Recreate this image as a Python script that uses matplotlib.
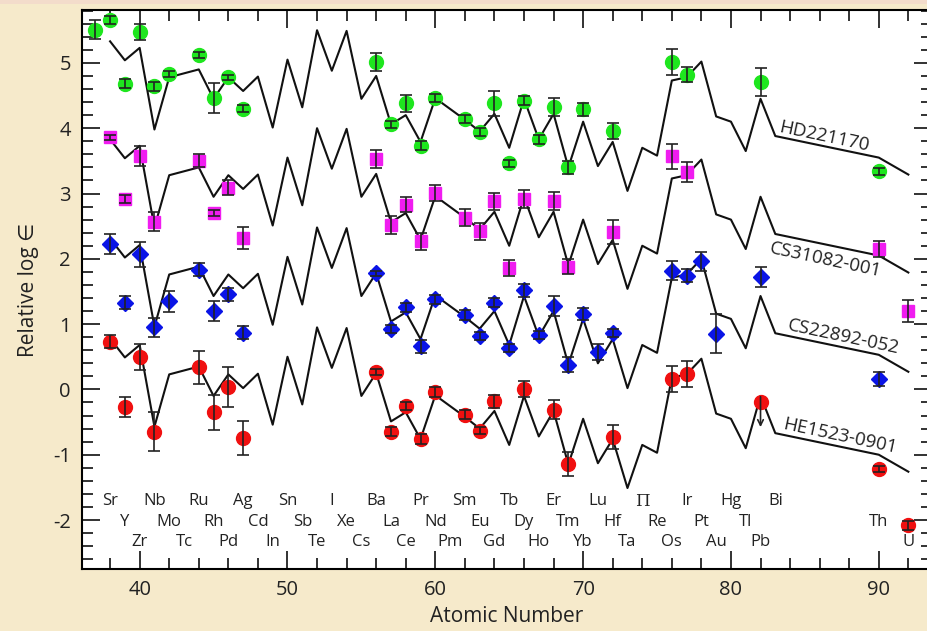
import matplotlib.pyplot as plt
import numpy as np
from matplotlib.patches import Rectangle
from matplotlib.ticker import MultipleLocator

plt.rcParams['font.family'] = ['Open Sans', 'DejaVu Sans']
plt.rcParams['axes.unicode_minus'] = False

# scaled solar r-process pattern (drawn for HD221170, shifted for the others)
solar_z = [38, 39, 40, 41, 42, 44, 45, 46, 47, 48, 49, 50, 51, 52, 53, 54, 55, 56,
           57, 58, 59, 60, 62, 63, 64, 65, 66, 67, 68, 69, 70, 71, 72, 73, 74, 75,
           76, 77, 78, 79, 80, 81, 82, 83, 90, 92]
solar_y = [5.33, 5.04, 5.23, 3.98, 4.78, 4.90, 4.45, 4.78, 4.57, 4.79, 4.01, 5.05,
           4.32, 5.50, 4.88, 5.49, 4.45, 4.80, 4.06, 4.20, 3.79, 4.46, 4.13, 3.95,
           4.22, 3.70, 4.45, 3.83, 4.22, 3.40, 4.10, 3.42, 3.79, 3.04, 3.70, 3.58,
           4.73, 4.78, 5.02, 4.18, 4.10, 3.65, 4.45, 3.88, 3.55, 3.29]
star_names = ['HD221170', 'CS31082-001', 'CS22892-052', 'HE1523-0901']
curve_offsets = [0.0, -1.50, -3.02, -4.55]

# HD221170
hd_z = [37, 38, 39, 40, 41, 42, 44, 45, 46, 47, 56, 57, 58, 59, 60, 62, 63, 64, 65,
        66, 67, 68, 69, 70, 72, 76, 77, 82, 90]
hd_y = [5.51, 5.66, 4.68, 5.47, 4.64, 4.83, 5.12, 4.46, 4.78, 4.30, 5.01, 4.06, 4.38,
        3.73, 4.46, 4.14, 3.94, 4.38, 3.46, 4.42, 3.83, 4.33, 3.40, 4.29, 3.96, 5.02,
        4.82, 4.71, 3.34]
hd_err = [0.14, 0.06, 0.07, 0.12, 0.07, 0.05, 0.04, 0.23, 0.04, 0.05, 0.14, 0.05, 0.13,
          0.07, 0.06, 0.06, 0.06, 0.19, 0.06, 0.07, 0.07, 0.14, 0.10, 0.10, 0.12, 0.20,
          0.12, 0.21, 0.05]

# CS31082-001
cs31_z = [38, 39, 40, 41, 44, 45, 46, 47, 56, 57, 58, 59, 60, 62, 63, 64, 65, 66, 68,
          69, 72, 76, 77, 90, 92]
cs31_y = [3.86, 2.91, 3.57, 2.57, 3.50, 2.70, 3.09, 2.32, 3.53, 2.52, 2.83, 2.27, 3.01,
          2.63, 2.42, 2.88, 1.86, 2.92, 2.88, 1.88, 2.41, 3.57, 3.33, 2.15, 1.20]
cs31_err = [0.04, 0.06, 0.15, 0.15, 0.10, 0.04, 0.12, 0.17, 0.14, 0.14, 0.12, 0.13, 0.12,
            0.13, 0.13, 0.13, 0.12, 0.14, 0.14, 0.11, 0.18, 0.19, 0.16, 0.12, 0.17]

# CS22892-052
cs22_z = [38, 39, 40, 41, 42, 44, 45, 46, 47, 56, 57, 58, 59, 60, 62, 63, 64, 65, 66,
          67, 68, 69, 70, 71, 72, 76, 77, 78, 79, 82, 90]
cs22_y = [2.23, 1.33, 2.07, 0.95, 1.35, 1.83, 1.20, 1.46, 0.87, 1.78, 0.93, 1.26, 0.66,
          1.38, 1.14, 0.82, 1.33, 0.63, 1.52, 0.83, 1.28, 0.38, 1.15, 0.57, 0.87, 1.82,
          1.74, 1.96, 0.85, 1.72, 0.16]
cs22_err = [0.15, 0.10, 0.19, 0.14, 0.16, 0.10, 0.16, 0.10, 0.10, 0.04, 0.06, 0.07, 0.10,
            0.07, 0.07, 0.06, 0.07, 0.06, 0.10, 0.06, 0.15, 0.11, 0.09, 0.12, 0.06, 0.15,
            0.10, 0.14, 0.30, 0.15, 0.11]

# HE1523-0901
he_z = [38, 39, 40, 41, 44, 45, 46, 47, 56, 57, 58, 59, 60, 62, 63, 64, 66, 68, 69, 72,
        76, 77, 90, 92]
he_y = [0.73, -0.27, 0.50, -0.65, 0.34, -0.35, 0.04, -0.74, 0.27, -0.65, -0.26, -0.76,
        -0.04, -0.39, -0.63, -0.18, 0.01, -0.31, -1.14, -0.73, 0.16, 0.24, -1.22, -2.08]
he_err = [0.10, 0.15, 0.20, 0.30, 0.25, 0.27, 0.31, 0.26, 0.05, 0.07, 0.06, 0.07, 0.07,
          0.07, 0.06, 0.10, 0.12, 0.15, 0.18, 0.18, 0.20, 0.20, 0.05, 0.07]
# Pb upper limit
he_lim_z = [82]
he_lim_y = [-0.20]

# element labels, three staggered rows
row1_sym = ['Sr', 'Nb', 'Ru', 'Ag', 'Sn', 'I', 'Ba', 'Pr', 'Sm', 'Tb', 'Er', 'Lu',
            'Π', 'Ir', 'Hg', 'Bi']
row1_z = [38, 41, 44, 47, 50, 53, 56, 59, 62, 65, 68, 71, 74, 77, 80, 83]
row2_sym = ['Y', 'Mo', 'Rh', 'Cd', 'Sb', 'Xe', 'La', 'Nd', 'Eu', 'Dy', 'Tm', 'Hf',
            'Re', 'Pt', 'Tl', 'Th']
row2_z = [39, 42, 45, 48, 51, 54, 57, 60, 63, 66, 69, 72, 75, 78, 81, 90]
row3_sym = ['Zr', 'Tc', 'Pd', 'In', 'Te', 'Cs', 'Ce', 'Pm', 'Gd', 'Ho', 'Yb', 'Ta',
            'Os', 'Au', 'Pb', 'U']
row3_z = [40, 43, 46, 49, 52, 55, 58, 61, 64, 67, 70, 73, 76, 79, 82, 92]

bg = '#f6eacb'
fig = plt.figure(figsize=(9.28, 6.31), dpi=100, facecolor=bg)
fig.patches.append(Rectangle((0, 0.994), 1, 0.006, transform=fig.transFigure,
                             facecolor='#f3dccb', edgecolor='none'))
ax = fig.add_axes([82 / 928, 62 / 631, 850 / 928, 559 / 631])
ax.set_facecolor('white')

# model curves
solar_z = np.array(solar_z)
solar_y = np.array(solar_y)
for off in curve_offsets:
    ax.plot(solar_z, solar_y + off, color='#111111', lw=1.5, zorder=2)

# curve labels
label_pos = [(86.3, 3.87), (86.4, 1.98), (87.6, 0.80), (87.4, -0.72)]
for name, (lx, ly) in zip(star_names, label_pos):
    ax.text(lx, ly, name, fontsize=13.5, rotation=-12, ha='center', va='center',
            color='#222222', zorder=3)

stars = [
    (hd_z, hd_y, hd_err, 'o', '#1ee61e', 10),
    (cs31_z, cs31_y, cs31_err, 's', '#f01cf0', 9),
    (cs22_z, cs22_y, cs22_err, 'D', '#0a14e6', 8),
    (he_z, he_y, he_err, 'o', '#f01010', 10),
]
for z, y, e, m, c, ms in stars:
    ax.plot(z, y, m, color=c, ms=ms, mec=c, zorder=4)
    ax.errorbar(z, y, yerr=e, fmt='none', ecolor='#222222', elinewidth=1.2,
                capsize=4.5, capthick=1.2, zorder=5)

# Pb upper limit in HE1523-0901
ax.plot(he_lim_z, he_lim_y, 'o', color='#f01010', ms=10, zorder=4)
for lz, ly in zip(he_lim_z, he_lim_y):
    ax.annotate('', xy=(lz, ly - 0.42), xytext=(lz, ly + 0.13),
                arrowprops=dict(arrowstyle='->', color='#222222', lw=1.2), zorder=5)

for syms, zs, yy in [(row1_sym, row1_z, -1.71), (row2_sym, row2_z, -2.03),
                     (row3_sym, row3_z, -2.34)]:
    for s, z in zip(syms, zs):
        fam = ['DejaVu Serif'] if s == 'Π' else ['Open Sans', 'DejaVu Sans']
        ax.text(z, yy, s, fontsize=12, ha='center', va='center', color='#222222',
                family=fam)

ax.set_xlim(36.1, 93.6)
ax.set_ylim(-2.75, 5.81)
ax.xaxis.set_major_locator(MultipleLocator(10))
ax.xaxis.set_minor_locator(MultipleLocator(2))
ax.yaxis.set_major_locator(MultipleLocator(1))
ax.yaxis.set_minor_locator(MultipleLocator(0.2))
ax.tick_params(which='both', direction='in', top=True, right=True, width=1.3,
               labelsize=14.5, colors='#222222')
ax.tick_params(which='major', length=13, pad=8)
ax.tick_params(which='minor', length=8)
for sp in ax.spines.values():
    sp.set_linewidth(1.5)

ax.set_xlabel('Atomic Number', fontsize=15, color='#222222', labelpad=4)
ax.set_ylabel('Relative log ∈', fontsize=15, color='#222222', labelpad=10)

fig.savefig('out.png', dpi=100, facecolor=bg)
